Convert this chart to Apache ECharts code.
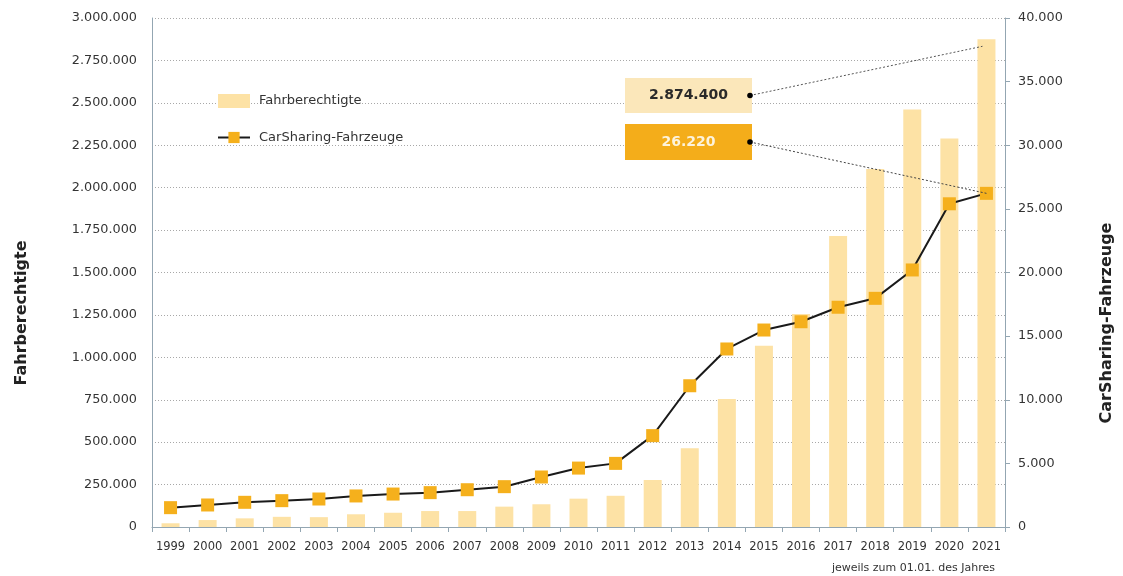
<!DOCTYPE html>
<html><head><meta charset="utf-8">
<script src="https://cdn.jsdelivr.net/npm/echarts@6/dist/echarts.min.js"></script>
<style>html,body{margin:0;padding:0;background:#fff}#c{width:1123px;height:576px}</style>
</head><body><div id="c"></div>
<script>
const years = ['1999','2000','2001','2002','2003','2004','2005','2006','2007','2008','2009','2010','2011','2012','2013','2014','2015','2016','2017','2018','2019','2020','2021'];
const fahrberechtigte = [22000,41000,51000,60000,58000,75000,84000,94000,94000,120000,134000,167000,184000,277000,464000,754000,1069000,1255000,1715000,2110000,2460000,2290000,2874400];
const fahrzeuge = [1520,1730,1940,2070,2200,2440,2590,2700,2930,3170,3930,4630,5000,7180,11100,13990,15480,16130,17270,17970,20200,25400,26220];
const seriesNames = ['Fahrberechtigte','CarSharing-Fahrzeuge'];
const axisTitles = ['Fahrberechtigte','CarSharing-Fahrzeuge'];
const footnote = 'jeweils zum 01.01. des Jahres';

const fmt = v => String(v).replace(/\B(?=(\d{3})+(?!\d))/g, '.');
const FONT = 'DejaVu Sans';
const barColor = '#fde2a5';
const lineMarker = '#f5b01c';
const axisCol = '#93a6b2';

const chart = echarts.init(document.getElementById('c'), null, {renderer:'canvas'});
chart.setOption({
  animation:false,
  textStyle:{fontFamily:FONT},
  grid:{left:152,right:118,top:18,bottom:49,containLabel:false},
  legend:{
    orient:'vertical', left:212, top:89, itemWidth:32, itemHeight:14, itemGap:23,
    textStyle:{fontFamily:FONT,fontSize:13,color:'#333',padding:[0,0,0,4]},
    data:[{name:seriesNames[0],icon:'rect'},{name:seriesNames[1]}]
  },
  xAxis:{
    type:'category', data:years,
    axisLine:{lineStyle:{color:axisCol,width:1}},
    axisTick:{show:true,length:5,lineStyle:{color:axisCol}},
    axisLabel:{fontFamily:FONT,fontSize:11.5,color:'#333',margin:14,interval:0}
  },
  yAxis:[
    {type:'value',min:0,max:3000000,interval:250000,position:'left',
     axisLine:{show:true,lineStyle:{color:axisCol}},
     axisTick:{show:false},
     axisLabel:{fontFamily:FONT,fontSize:12.8,color:'#333',margin:15,formatter:fmt},
     splitLine:{show:true,lineStyle:{color:'#a8a8a8',type:[1,2],width:1}}
    },
    {type:'value',min:0,max:40000,interval:5000,position:'right',
     axisLine:{show:true,lineStyle:{color:axisCol}},
     axisTick:{show:true,length:5,inside:false,lineStyle:{color:axisCol}},
     axisLabel:{fontFamily:FONT,fontSize:12.8,color:'#333',margin:13,formatter:fmt},
     splitLine:{show:false}
    }
  ],
  series:[
    {name:seriesNames[0],type:'bar',yAxisIndex:0,data:fahrberechtigte,barWidth:18,
     itemStyle:{color:barColor}},
    {name:seriesNames[1],type:'line',yAxisIndex:1,data:fahrzeuge,
     symbol:'rect',symbolSize:13,showAllSymbol:true,
     lineStyle:{color:'#1a1a1a',width:2},
     itemStyle:{color:lineMarker,borderWidth:0},z:5}
  ]
});

// annotation callouts anchored to the 2021 values
const last = years.length-1;
const pBar = chart.convertToPixel({xAxisIndex:0,yAxisIndex:0},[years[last],fahrberechtigte[last]]);
const pLine = chart.convertToPixel({xAxisIndex:0,yAxisIndex:1},[years[last],fahrzeuge[last]]);
const box1 = {x:625,y:78,w:127,h:35};
const box2 = {x:625,y:124,w:127,h:36};
const d1 = [box1.x+box1.w-2, box1.y+box1.h/2];
const d2 = [box2.x+box2.w-2, box2.y+box2.h/2];
chart.setOption({
  graphic:[
    {type:'rect',shape:{x:box1.x,y:box1.y,width:box1.w,height:box1.h},style:{fill:'#fbe7ba'},z:10},
    {type:'text',x:box1.x+box1.w/2,y:box1.y+box1.h/2,style:{text:fmt(fahrberechtigte[last]),fill:'#2a2a2a',font:'bold 14px "DejaVu Sans"',align:'center',verticalAlign:'middle'},z:11},
    {type:'rect',shape:{x:box2.x,y:box2.y,width:box2.w,height:box2.h},style:{fill:'#f4ad1a'},z:10},
    {type:'text',x:box2.x+box2.w/2,y:box2.y+box2.h/2,style:{text:fmt(fahrzeuge[last]),fill:'#fdf3dc',font:'bold 14px "DejaVu Sans"',align:'center',verticalAlign:'middle'},z:11},
    {type:'polyline',shape:{points:[d1,[pBar[0]-4,pBar[1]+7]]},style:{stroke:'#555',lineWidth:1,lineDash:[2,2]},z:12},
    {type:'polyline',shape:{points:[d2,pLine]},style:{stroke:'#444',lineWidth:1,lineDash:[2,2]},z:12},
    {type:'circle',shape:{cx:d1[0],cy:d1[1],r:2.8},style:{fill:'#000'},z:13},
    {type:'circle',shape:{cx:d2[0],cy:d2[1],r:2.8},style:{fill:'#000'},z:13},
    {type:'text',x:22,y:313,rotation:Math.PI/2,style:{text:axisTitles[0],fill:'#222',font:'bold 16px "DejaVu Sans"',align:'center',verticalAlign:'middle'},z:11},
    {type:'text',x:1107,y:323,rotation:Math.PI/2,style:{text:axisTitles[1],fill:'#222',font:'bold 16px "DejaVu Sans"',align:'center',verticalAlign:'middle'},z:11},
    {type:'text',right:128,bottom:2,style:{text:footnote,fill:'#333',font:'11px "DejaVu Sans"'},z:11}
  ]
});
</script></body></html>
